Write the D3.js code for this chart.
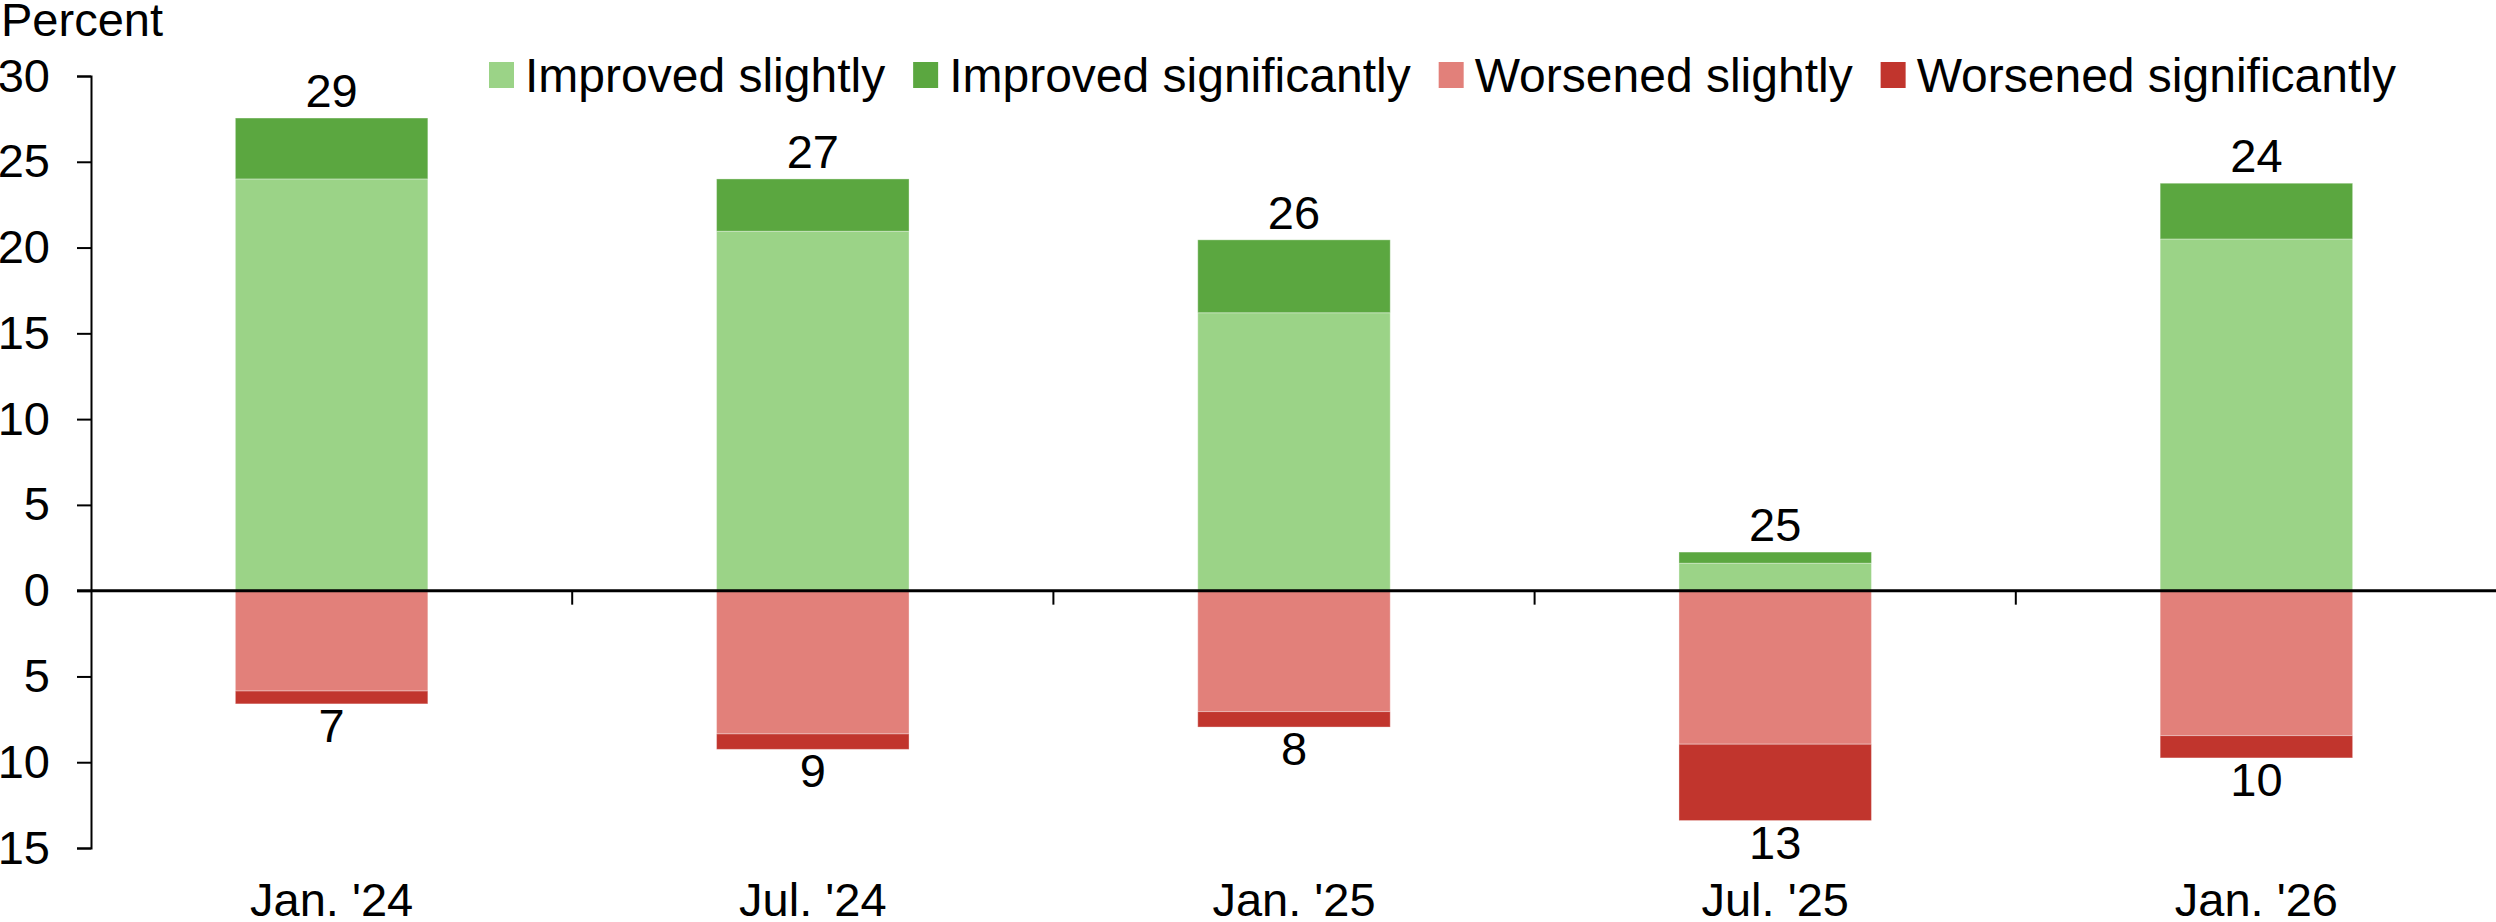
<!DOCTYPE html>
<html>
<head>
<meta charset="utf-8">
<script src="https://cdn.jsdelivr.net/npm/d3@7"></script>
<style>
  body { margin: 0; background: #fff; }
  svg { display: block; font-family: "Liberation Sans", Arial, sans-serif; }
  .axis text { font-size: 47px; fill: #000; }
  .axis path, .axis line { stroke: #000; stroke-width: 2; }
</style>
</head>
<body>
<div id="chart"></div>
<script>
var svgWidth = 2496;
var svgHeight = 922;

// data (percent)
var categories = ["Jan. '24", "Jul. '24", "Jan. '25", "Jul. '25", "Jan. '26"];
var improvedSlightly = [24.0, 20.95, 16.2, 1.6, 20.5];
var improvedSignificantly = [3.55, 3.05, 4.25, 0.65, 3.25];
var worsenedSlightly = [5.85, 8.35, 7.05, 8.95, 8.45];
var worsenedSignificantly = [0.75, 0.9, 0.9, 4.45, 1.3];
var topLabels = [29, 27, 26, 25, 24];
var bottomLabels = [7, 9, 8, 13, 10];
var yTicks = [-15, -10, -5, 0, 5, 10, 15, 20, 25, 30];

var seriesNames = ["Improved slightly", "Improved significantly", "Worsened slightly", "Worsened significantly"];
var colors = ["#9bd387", "#5ba740", "#e2807a", "#c1352d"];

// table for the stack, worsened shares go below zero
var table = categories.map(function(c, i) {
  return {
    cat: c,
    "Improved slightly": improvedSlightly[i],
    "Improved significantly": improvedSignificantly[i],
    "Worsened slightly": -worsenedSlightly[i],
    "Worsened significantly": -worsenedSignificantly[i]
  };
});

var svg = d3.select("#chart")
  .append("svg")
  .attr("width", svgWidth)
  .attr("height", svgHeight);

var x = d3.scaleBand()
  .domain(categories)
  .range([91, 2497])
  .paddingInner(0.6)
  .paddingOuter(0.3);

var y = d3.scaleLinear()
  .domain([-15, 30])
  .range([848, 76]);

var stacked = d3.stack()
  .keys(seriesNames)
  .offset(d3.stackOffsetDiverging)(table);

// bars
svg.append("g")
  .selectAll("g")
  .data(stacked)
  .enter()
  .append("g")
  .attr("fill", function(d, i) { return colors[i]; })
  .selectAll("rect")
  .data(function(d) { return d; })
  .enter()
  .append("rect")
  .attr("x", function(d) { return x(d.data.cat); })
  .attr("width", x.bandwidth())
  .attr("y", function(d) { return y(Math.max(d[0], d[1])); })
  .attr("height", function(d) { return Math.abs(y(d[0]) - y(d[1])); })
  .attr("stroke", "#ffffff")
  .attr("stroke-opacity", 0.35)
  .attr("stroke-width", 1);

// y axis
var leftAxis = d3.axisLeft(y)
  .tickValues(yTicks)
  .tickSize(14)
  .tickPadding(27)
  .tickFormat(function(d) { return Math.abs(d); });

svg.append("g")
  .attr("class", "axis y-axis")
  .attr("transform", "translate(91,0)")
  .call(leftAxis);

// zero line
svg.append("line")
  .attr("x1", 77)
  .attr("x2", svgWidth)
  .attr("y1", y(0))
  .attr("y2", y(0))
  .attr("stroke", "#000")
  .attr("stroke-width", 3);

// category separator ticks on the zero line
var gap = x.step() - x.bandwidth();
svg.append("g")
  .selectAll("line")
  .data(categories.slice(0, -1))
  .enter()
  .append("line")
  .attr("x1", function(d) { return x(d) + x.bandwidth() + gap / 2; })
  .attr("x2", function(d) { return x(d) + x.bandwidth() + gap / 2; })
  .attr("y1", y(0))
  .attr("y2", y(0) + 14)
  .attr("stroke", "#000")
  .attr("stroke-width", 2);

// category labels along the bottom
var bottomAxis = d3.axisBottom(x).tickSize(0).tickPadding(0);
var xg = svg.append("g")
  .attr("class", "axis x-axis")
  .attr("transform", "translate(0,882)")
  .call(bottomAxis);
xg.select(".domain").remove();
xg.selectAll("text").attr("dy", "0.72em");

// totals above / below the bars
svg.append("g")
  .selectAll("text")
  .data(categories)
  .enter()
  .append("text")
  .attr("text-anchor", "middle")
  .style("font-size", "47px")
  .attr("x", function(d) { return x(d) + x.bandwidth() / 2; })
  .attr("y", function(d, i) { return y(improvedSlightly[i] + improvedSignificantly[i]) - 11; })
  .text(function(d, i) { return topLabels[i]; });

svg.append("g")
  .selectAll("text")
  .data(categories)
  .enter()
  .append("text")
  .attr("text-anchor", "middle")
  .style("font-size", "47px")
  .attr("x", function(d) { return x(d) + x.bandwidth() / 2; })
  .attr("y", function(d, i) { return y(-(worsenedSlightly[i] + worsenedSignificantly[i])) + 38; })
  .text(function(d, i) { return bottomLabels[i]; });

// unit label
svg.append("text")
  .attr("x", 1)
  .attr("y", 36)
  .style("font-size", "47px")
  .text("Percent");

// legend
var legend = svg.append("g").attr("transform", "translate(489,75)");
var lx = 0;
seriesNames.forEach(function(name, i) {
  legend.append("rect")
    .attr("x", lx)
    .attr("y", -13)
    .attr("width", 25)
    .attr("height", 26)
    .attr("fill", colors[i]);
  var t = legend.append("text")
    .attr("x", lx + 36)
    .attr("y", 0)
    .attr("dy", "0.35em")
    .style("font-size", "48px")
    .text(name);
  lx += 36 + t.node().getComputedTextLength() + 28;
});
</script>
</body>
</html>
